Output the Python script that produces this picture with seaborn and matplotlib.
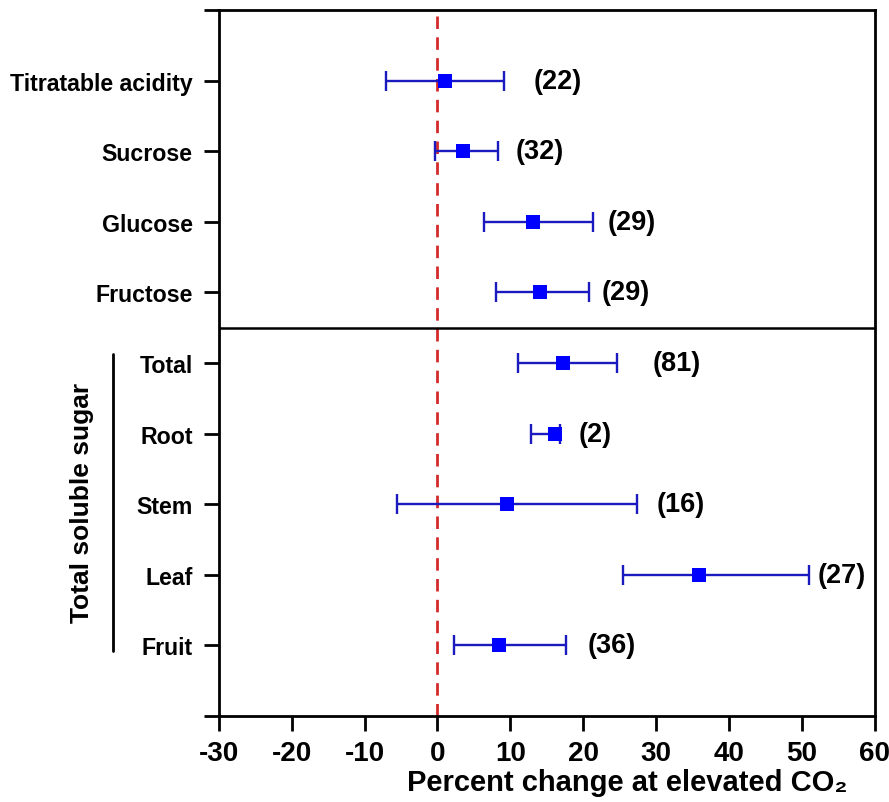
import numpy as np
import pandas as pd
import matplotlib
matplotlib.use("Agg")
import matplotlib.pyplot as plt
import seaborn as sns

# ---- data ----
categories = ["Titratable acidity", "Sucrose", "Glucose", "Fructose",
              "Total", "Root", "Stem", "Leaf", "Fruit"]
means = [1.0, 3.5, 13.1, 14.1, 17.3, 16.1, 9.5, 35.9, 8.5]
ci_low = [-7.0, -0.4, 6.4, 8.0, 11.1, 12.8, -5.6, 25.5, 2.3]
ci_high = [9.2, 8.3, 21.3, 20.8, 24.7, 16.8, 27.4, 51.0, 17.7]
n_labels = ["(22)", "(32)", "(29)", "(29)", "(81)", "(2)", "(16)", "(27)", "(36)"]
n_label_x = [13.2, 10.7, 23.3, 22.5, 29.6, 19.4, 30.1, 52.2, 20.6]
x_ticks = [-30, -20, -10, 0, 10, 20, 30, 40, 50, 60]

sns.set_style("ticks")
plt.rcParams["font.family"] = ["Liberation Sans", "DejaVu Sans"]
plt.rcParams["font.weight"] = "bold"
plt.rcParams["mathtext.default"] = "regular"
for k in ["text.color", "axes.labelcolor", "xtick.color", "ytick.color",
          "xtick.labelcolor", "ytick.labelcolor"]:
    plt.rcParams[k] = "black"

df = pd.DataFrame({"cat": categories, "mean": means,
                   "lo": ci_low, "hi": ci_high,
                   "pos": np.arange(1, len(categories) + 1)})

fig = plt.figure(figsize=(8.89, 8.03), dpi=100)
ax = fig.add_axes([0.2463, 0.1071, 0.9837 - 0.2463, 0.9863 - 0.1071])

bar_col = "#1a1abf"
ax.errorbar(df["mean"], df["pos"],
            xerr=[df["mean"] - df["lo"], df["hi"] - df["mean"]],
            fmt="none", ecolor=bar_col, elinewidth=1.7, capsize=7,
            capthick=1.7, zorder=3)
sns.scatterplot(data=df, x="mean", y="pos", marker="s", s=105,
                color="#0000ff", edgecolor="#0000ff", linewidth=0,
                ax=ax, zorder=4, legend=False)

for lbl, lx, p in zip(n_labels, n_label_x, df["pos"]):
    ax.text(lx, p, lbl, ha="left", va="center", fontsize=19.5,
            fontweight="bold", color="black")

ax.axvline(0, color="#d42a2a", linestyle=(0, (4.5, 3)), linewidth=2, zorder=2)
ax.axhline(4.5, color="black", linewidth=1.8, zorder=2)

ax.set_xlim(-30, 60)
ax.set_ylim(10, 0)
ax.set_xticks(x_ticks)
ax.set_xticklabels([str(t) for t in x_ticks], fontsize=20, fontweight="bold")
ax.set_yticks(np.arange(0, 11))
ax.set_yticklabels([""] + categories + [""], fontsize=16.7, fontweight="bold")
ax.tick_params(axis="both", direction="out", length=11, width=2, color="black")
ax.tick_params(axis="x", pad=6)
ax.tick_params(axis="y", pad=8)
for sp in ax.spines.values():
    sp.set_visible(True)
    sp.set_linewidth(2)
    sp.set_color("black")

ax.set_xlabel("Percent change at elevated CO\u2082", fontsize=21,
              fontweight="bold")
ax.xaxis.set_label_coords(0.623, -0.074)
ax.set_ylabel("")

# group bracket for Total soluble sugar
fig.add_artist(plt.Line2D([112.7 / 889, 112.7 / 889],
                          [1 - 355 / 803, 1 - 652 / 803],
                          color="black", linewidth=2, transform=fig.transFigure))
fig.text(82 / 889, 1 - 503 / 803, "Total soluble sugar", rotation=90,
         ha="center", va="center", fontsize=19, fontweight="bold")

fig.savefig("out.png", dpi=100)
